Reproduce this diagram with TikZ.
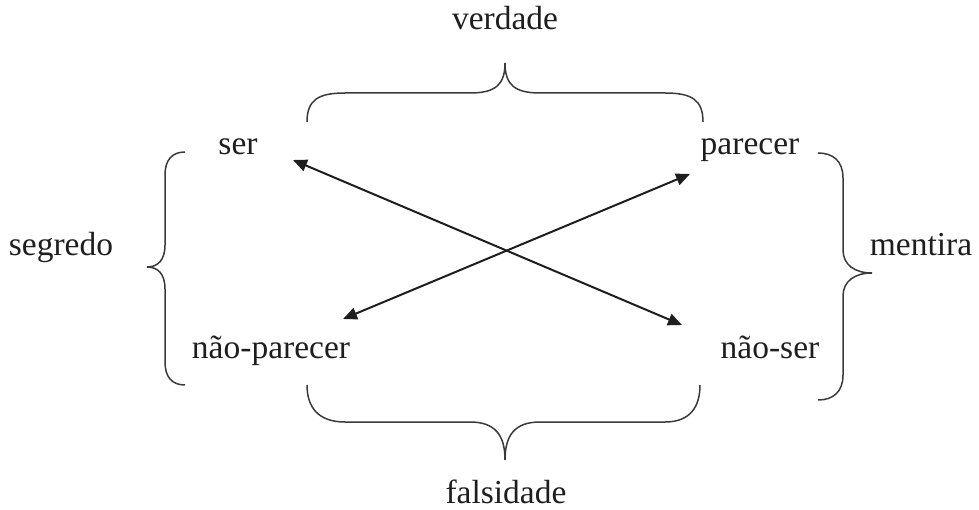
\documentclass[tikz,border=0pt]{standalone}
\usepackage{fontspec}
\setmainfont{Liberation Serif}
\usetikzlibrary{arrows.meta}
\definecolor{ink}{HTML}{1E1E1E}
\definecolor{bracecol}{HTML}{3A3A3A}
\begin{document}
\begin{tikzpicture}[x=1pt,y=-1pt,
  lbl/.style={anchor=base,inner sep=0pt,text=ink,font=\fontsize{33.5}{40}\selectfont},
  bracepath/.style={draw=bracecol,line width=1.5pt},
  link/.style={draw=ink,line width=2pt,{Triangle[length=14pt,width=12pt]}-{Triangle[length=14pt,width=12pt]}}]
\useasboundingbox (0,0) rectangle (979,510);
% labels
\node[lbl] (verdade) at (505,30) {verdade};
\node[lbl] (ser) at (238,155) {ser};
\node[lbl] (parecer) at (750,155) {parecer};
\node[lbl] (segredo) at (61,256) {segredo};
\node[lbl] (mentira) at (921,256) {mentira};
\node[lbl] (naoparecer) at (271,358) {não-parecer};
\node[lbl] (naoser) at (770,358) {não-ser};
\node[lbl] (falsidade) at (506,503) {falsidade};
% arrow end points
\coordinate (serTip) at (293,160);
\coordinate (naoserTip) at (682,325);
\coordinate (parecerTip) at (690,174);
\coordinate (naoparecerTip) at (343,319);
\draw[link] (serTip) -- (naoserTip);
\draw[link] (naoparecerTip) -- (parecerTip);
% braces
\draw[bracepath] (307,122) .. controls (307,100) and (318,93) .. (345,93) -- (470,93)
  .. controls (495,93) and (505,85) .. (505,63)
  .. controls (505,85) and (515,93) .. (540,93) -- (665,93)
  .. controls (692,93) and (703,100) .. (703,122);
\draw[bracepath] (307,385) .. controls (307,407) and (318,422) .. (345,422) -- (470,422)
  .. controls (495,422) and (505,435) .. (505,460)
  .. controls (505,435) and (515,422) .. (540,422) -- (665,422)
  .. controls (690,422) and (700,407) .. (700,385);
\draw[bracepath] (185,152) .. controls (172,152) and (165,160) .. (165,175) -- (165,245)
  .. controls (165,260) and (158,267) .. (147,267)
  .. controls (158,267) and (165,274) .. (165,289) -- (165,362)
  .. controls (165,377) and (172,385) .. (185,385);
\draw[bracepath] (818,153) .. controls (833,153) and (843,161) .. (843,178) -- (843,250)
  .. controls (843,265) and (855,273) .. (872,273)
  .. controls (855,273) and (843,281) .. (843,296) -- (843,375)
  .. controls (843,392) and (833,400) .. (818,400);
\end{tikzpicture}
\end{document}
